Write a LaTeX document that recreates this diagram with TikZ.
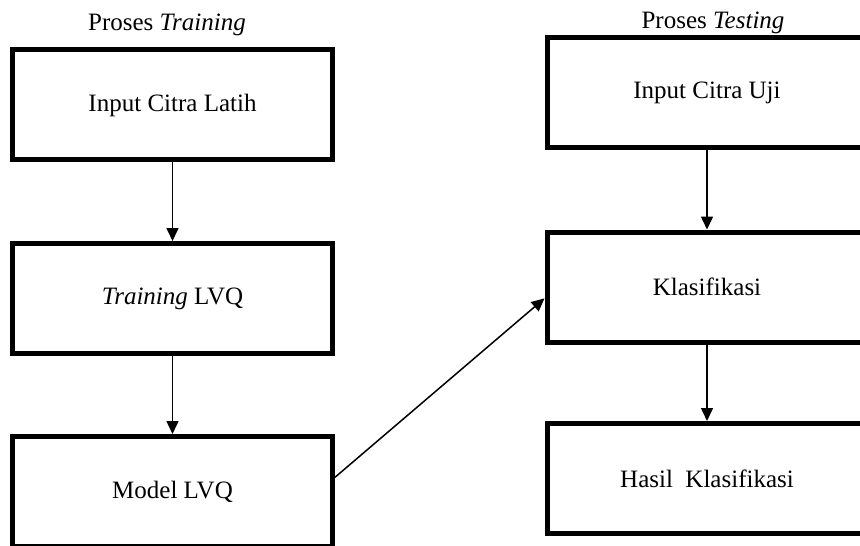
\documentclass[tikz,border=0pt]{standalone}
\usepackage{fontspec}
\setmainfont{Liberation Serif}
\usepackage{tikz}
\usetikzlibrary{shapes}
\usetikzlibrary{arrows.meta}
\usetikzlibrary{positioning}
\tikzstyle{proses}=[
        draw,
        rectangle,
        line width=2.5pt,
        minimum width=160pt,
        minimum height=55pt,
        font=\fontsize{12.5}{15}\selectfont,
        fill=white
]
\tikzstyle{judul}=[font=\fontsize{12.5}{15}\selectfont]
\tikzstyle{alur}=[-{Triangle[length=6.5pt,width=6pt]},line width=0.75pt]

\begin{document}
\begin{tikzpicture}[x=0.5pt,y=-0.5pt]
\useasboundingbox (0,0) rectangle (860,545);
\node[judul] (tjudul) at (167,25) {Proses \textit{Training}};
\node[judul] (ujudul) at (713,23) {Proses \textit{Testing}};
\node[proses] (latih) at (172.5,105) {Input Citra Latih};
\node[proses] (train) at (172.5,298.5) {\textit{Training} LVQ};
\node[proses] (model) at (172.5,491.5) {Model LVQ};
\node[proses] (uji) at (707,92.5) {Input Citra Uji};
\node[proses] (klas) at (707,287) {Klasifikasi};
\node[proses] (hasil) at (707,478.5) {Hasil\ \ Klasifikasi};
%alur training
\draw[alur] (latih) -- (train);
\draw[alur] (train) -- (model);
%alur testing
\draw[alur] (uji) -- (klas);
\draw[alur] (klas) -- (hasil);

\draw[alur] (model.5) -- (klas.184);
\end{tikzpicture}
\end{document}
